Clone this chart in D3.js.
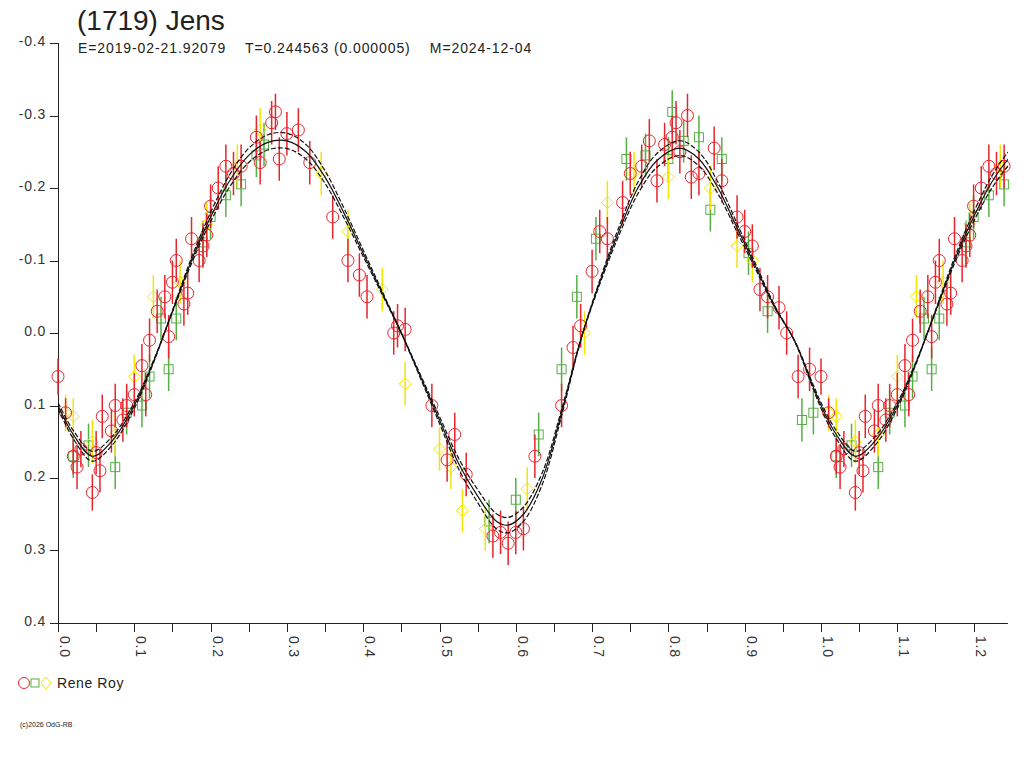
<!DOCTYPE html>
<html><head><meta charset="utf-8">
<script src="https://cdn.jsdelivr.net/npm/d3@7"></script>
<style>body{margin:0;background:#fff}svg{display:block;font-family:"Liberation Sans",Arial,sans-serif}</style>
</head><body><svg id="c" width="1024" height="768"></svg>
<script>
// fitted lightcurve: [phase, mag]
const fitCurve = [[0,0.10],[0.02,0.14],[0.045,0.17],[0.07,0.15],[0.10,0.10],[0.125,0.04],[0.15,-0.03],[0.175,-0.10],[0.20,-0.16],[0.225,-0.21],[0.25,-0.245],[0.275,-0.263],[0.30,-0.265],[0.325,-0.25],[0.35,-0.215],[0.375,-0.165],[0.40,-0.11],[0.425,-0.055],[0.45,0.0],[0.475,0.06],[0.50,0.12],[0.525,0.18],[0.55,0.225],[0.575,0.26],[0.59,0.265],[0.61,0.25],[0.635,0.2],[0.66,0.11],[0.685,0.01],[0.71,-0.07],[0.735,-0.14],[0.76,-0.2],[0.785,-0.238],[0.815,-0.255],[0.84,-0.24],[0.865,-0.2],[0.89,-0.145],[0.915,-0.09],[0.94,-0.035],[0.965,0.01],[0.99,0.075],[1.0,0.10]];
const bandScale = [0.96, 1.04];

// observations: [phase, mag, error]
const redObs = [[0.0,0.06,0.025],[0.01,0.11,0.02],[0.02,0.17,0.025],[0.025,0.185,0.03],[0.03,0.16,0.025],[0.045,0.22,0.025],[0.05,0.165,0.03],[0.055,0.19,0.03],[0.058,0.115,0.03],[0.07,0.135,0.03],[0.075,0.10,0.03],[0.085,0.12,0.03],[0.09,0.10,0.03],[0.1,0.085,0.03],[0.11,0.045,0.03],[0.115,0.085,0.03],[0.12,0.01,0.03],[0.13,-0.03,0.03],[0.14,-0.05,0.03],[0.145,0.005,0.03],[0.15,-0.07,0.03],[0.155,-0.10,0.03],[0.165,-0.04,0.03],[0.17,-0.055,0.03],[0.175,-0.13,0.03],[0.185,-0.10,0.03],[0.19,-0.12,0.03],[0.195,-0.135,0.03],[0.2,-0.175,0.03],[0.21,-0.2,0.03],[0.22,-0.23,0.03],[0.23,-0.22,0.03],[0.24,-0.23,0.03],[0.26,-0.27,0.03],[0.265,-0.235,0.03],[0.28,-0.29,0.03],[0.285,-0.305,0.025],[0.29,-0.24,0.03],[0.3,-0.275,0.03],[0.315,-0.28,0.03],[0.33,-0.235,0.03],[0.36,-0.16,0.03],[0.38,-0.1,0.03],[0.395,-0.08,0.03],[0.405,-0.05,0.03],[0.44,0.0,0.03],[0.445,-0.01,0.03],[0.455,-0.005,0.03],[0.49,0.1,0.03],[0.51,0.175,0.03],[0.52,0.14,0.03],[0.535,0.195,0.03],[0.57,0.28,0.03],[0.58,0.275,0.03],[0.59,0.29,0.03],[0.6,0.275,0.03],[0.61,0.27,0.03],[0.625,0.17,0.03],[0.66,0.1,0.03],[0.675,0.02,0.03],[0.685,-0.01,0.03],[0.7,-0.085,0.03],[0.71,-0.14,0.03],[0.72,-0.13,0.03],[0.74,-0.18,0.03],[0.75,-0.22,0.03],[0.765,-0.23,0.03],[0.775,-0.265,0.03],[0.785,-0.21,0.03],[0.795,-0.26,0.03],[0.805,-0.27,0.03],[0.81,-0.29,0.03],[0.815,-0.25,0.03],[0.825,-0.3,0.03],[0.83,-0.215,0.03],[0.84,-0.22,0.03],[0.86,-0.255,0.03],[0.87,-0.21,0.03],[0.89,-0.16,0.03],[0.9,-0.14,0.03],[0.91,-0.12,0.03],[0.92,-0.06,0.03],[0.93,-0.05,0.03],[0.945,-0.035,0.03],[0.955,0.0,0.03],[0.97,0.06,0.03],[0.985,0.05,0.03]];
const greenObs = [[0.02,0.17,0.03],[0.04,0.155,0.03],[0.075,0.185,0.03],[0.09,0.11,0.03],[0.11,0.1,0.03],[0.12,0.06,0.03],[0.135,-0.02,0.03],[0.145,0.05,0.03],[0.155,-0.02,0.03],[0.19,-0.125,0.03],[0.2,-0.16,0.03],[0.22,-0.19,0.03],[0.24,-0.205,0.03],[0.26,-0.245,0.03],[0.27,-0.26,0.03],[0.565,0.26,0.03],[0.6,0.23,0.03],[0.63,0.14,0.03],[0.66,0.05,0.03],[0.68,-0.05,0.03],[0.705,-0.13,0.03],[0.745,-0.24,0.03],[0.77,-0.245,0.03],[0.8,-0.24,0.03],[0.805,-0.305,0.03],[0.82,-0.265,0.03],[0.84,-0.27,0.03],[0.855,-0.17,0.03],[0.87,-0.24,0.03],[0.905,-0.11,0.03],[0.93,-0.03,0.03],[0.975,0.12,0.03],[0.99,0.11,0.03]];
const yellowObs = [[0.01,0.11,0.025],[0.02,0.115,0.025],[0.045,0.15,0.03],[0.075,0.14,0.03],[0.1,0.06,0.03],[0.125,-0.05,0.03],[0.16,-0.07,0.03],[0.195,-0.15,0.03],[0.235,-0.23,0.03],[0.265,-0.28,0.03],[0.345,-0.22,0.03],[0.38,-0.14,0.03],[0.425,-0.06,0.03],[0.455,0.07,0.03],[0.5,0.16,0.03],[0.515,0.185,0.03],[0.53,0.245,0.03],[0.56,0.27,0.03],[0.615,0.215,0.03],[0.69,0.0,0.03],[0.72,-0.18,0.03],[0.755,-0.22,0.03],[0.8,-0.215,0.03],[0.855,-0.2,0.03],[0.89,-0.12,0.03],[0.91,-0.1,0.03]];

const yTicks = [-0.4,-0.3,-0.2,-0.1,0.0,0.1,0.2,0.3,0.4];
const xMajor = [0,0.1,0.2,0.3,0.4,0.5,0.6,0.7,0.8,0.9,1.0,1.1,1.2];
const xMax = 1.245;

const svg = d3.select("#c");
const x = d3.scaleLinear().domain([0, 1]).range([58, 821]);
const y = d3.scaleLinear().domain([-0.4, 0.4]).range([43, 623]);

svg.append("text").attr("x", 77).attr("y", 30).attr("font-size", 28).attr("fill", "#222").text("(1719) Jens");
svg.append("text").attr("x", 78).attr("y", 53).attr("font-size", 14).attr("fill", "#222")
  .attr("letter-spacing", 0.9).attr("xml:space", "preserve")
  .text("E=2019-02-21.92079    T=0.244563 (0.000005)    M=2024-12-04");

// axes
const ax = svg.append("g").attr("stroke", "#222").attr("stroke-width", 1);
ax.append("line").attr("x1", 58.5).attr("x2", 58.5).attr("y1", 43).attr("y2", 623);
ax.append("line").attr("x1", 50).attr("x2", x(xMax)).attr("y1", 623.5).attr("y2", 623.5);
yTicks.forEach(t => {
  ax.append("line").attr("x1", 50).attr("x2", 58).attr("y1", Math.round(y(t)) + 0.5).attr("y2", Math.round(y(t)) + 0.5);
  svg.append("text").attr("x", 46).attr("y", y(t) + 3).attr("text-anchor", "end")
    .attr("font-size", 14).attr("letter-spacing", 0.8).attr("fill", "#333").text(t.toFixed(1));
});
d3.range(0, xMax, 0.05).forEach(t => {
  const px = Math.round(x(t)) + 0.5;
  ax.append("line").attr("x1", px).attr("x2", px).attr("y1", 623).attr("y2", 632);
});
xMajor.forEach(t => {
  svg.append("text").attr("transform", `translate(${x(t) + 2},636) rotate(90)`)
    .attr("font-size", 14).attr("letter-spacing", 0.8).attr("fill", "#333").text(t.toFixed(1));
});

const plot = svg.append("g");
const withWrap = arr => arr.concat(arr.filter(d => d[0] < xMax - 1).map(d => [d[0] + 1, d[1], d[2]]));

// error bars + markers
const drawObs = (arr, color, shape) => {
  const pts = withWrap(arr);
  plot.selectAll(null).data(pts).enter().append("line")
    .attr("x1", d => x(d[0])).attr("x2", d => x(d[0]))
    .attr("y1", d => y(d[1] - d[2])).attr("y2", d => y(d[1] + d[2]))
    .attr("stroke", color).attr("stroke-width", 1.5);
  const g = plot.selectAll(null).data(pts).enter();
  if (shape === "circle") g.append("circle").attr("cx", d => x(d[0])).attr("cy", d => y(d[1])).attr("r", 6)
    .attr("fill", "none").attr("stroke", color);
  if (shape === "square") g.append("rect").attr("x", d => x(d[0]) - 4.5).attr("y", d => y(d[1]) - 4.5)
    .attr("width", 9).attr("height", 9).attr("fill", "none").attr("stroke", color);
  if (shape === "diamond") g.append("path").attr("d", d => `M${x(d[0])},${y(d[1]) - 6}l6,6l-6,6l-6,-6z`)
    .attr("fill", "none").attr("stroke", color);
};
drawObs(greenObs, "#55b043", "square");
drawObs(yellowObs, "#f2e600", "diamond");
drawObs(redObs, "#e8242c", "circle");

// fit curves
const full = fitCurve.concat(fitCurve.filter(d => d[0] > 0 && d[0] <= 0.3).map(d => [d[0] + 1, d[1]]));
const line = d3.line().x(d => x(d[0])).y(d => y(d[1])).curve(d3.curveCatmullRom);
const clipLine = pts => pts.filter(d => d[0] <= xMax + 0.03);
svg.append("clipPath").attr("id", "cl").append("rect").attr("x", 58).attr("y", 43).attr("width", x(xMax) - 58).attr("height", 580);
const cg = svg.append("g").attr("clip-path", "url(#cl)");
cg.append("path").attr("d", line(clipLine(full))).attr("fill", "none").attr("stroke", "#111").attr("stroke-width", 1.2);
bandScale.forEach(s => {
  cg.append("path").attr("d", line(clipLine(full).map(d => [d[0], d[1] * s]))).attr("fill", "none")
    .attr("stroke", "#111").attr("stroke-width", 1.2).attr("stroke-dasharray", "5,2");
});

// legend
svg.append("circle").attr("cx", 24).attr("cy", 683).attr("r", 5.5).attr("fill", "none").attr("stroke", "#e8242c");
svg.append("rect").attr("x", 31).attr("y", 679).attr("width", 8).attr("height", 8).attr("fill", "none").attr("stroke", "#55b043");
svg.append("path").attr("d", "M46,677l5,6l-5,6l-5,-6z").attr("fill", "none").attr("stroke", "#f2e600");
svg.append("text").attr("x", 57).attr("y", 688).attr("font-size", 14).attr("letter-spacing", 0.6).attr("fill", "#222").text("Rene Roy");
svg.append("text").attr("x", 20).attr("y", 727).attr("font-size", 7).attr("fill", "#222").text("(c)2026 OdG-RB");
</script></body></html>
